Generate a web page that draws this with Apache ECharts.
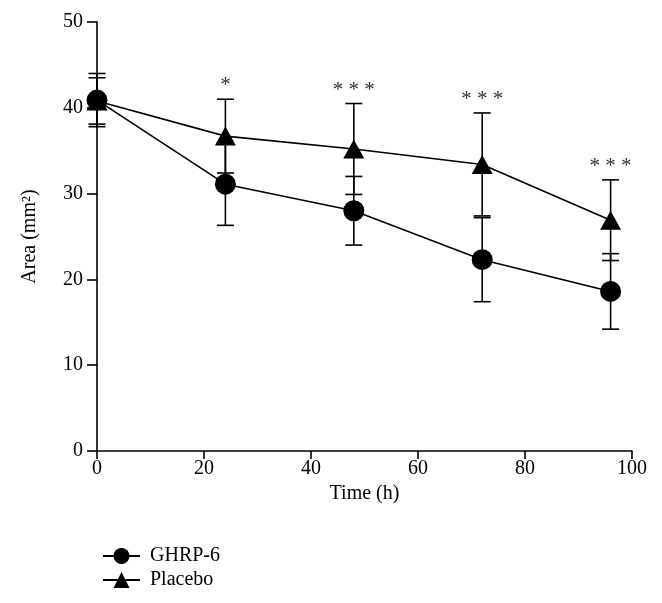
<!DOCTYPE html>
<html>
<head>
<meta charset="utf-8">
<script src="https://cdn.jsdelivr.net/npm/echarts@6/dist/echarts.min.js"></script>
<style>html,body{margin:0;padding:0;background:#fff;}#c{width:662px;height:603px;}</style>
</head>
<body>
<div id="c"></div>
<script>
const time = [0, 24, 48, 72, 96];
const ghrpMean = [40.9, 31.1, 28.0, 22.3, 18.6];
const ghrpErr = [3.1, 4.8, 4.0, 4.9, 4.4];
const placeboMean = [40.8, 36.7, 35.2, 33.4, 26.9];
const placeboErr = [2.7, 4.3, 5.3, 6.0, 4.7];
const sigLabels = ['', '*', '* * *', '* * *', '* * *'];
const xTicks = [0, 20, 40, 60, 80, 100];
const yTicks = [0, 10, 20, 30, 40, 50];

const FONT = '"Liberation Serif", "DejaVu Serif", serif';
const FS = 20;

function errData(mean, err) {
  return time.map((t, i) => [t, mean[i] - err[i], mean[i] + err[i], i]);
}

function errRender(params, api) {
  const x = api.value(0);
  const lo = api.coord([x, api.value(1)]);
  const hi = api.coord([x, api.value(2)]);
  const w = 8.5;
  const st = { stroke: '#000', lineWidth: 1.6 };
  return {
    type: 'group',
    children: [
      { type: 'line', shape: { x1: lo[0], y1: lo[1], x2: hi[0], y2: hi[1] }, style: st },
      { type: 'line', shape: { x1: lo[0] - w, y1: lo[1], x2: lo[0] + w, y2: lo[1] }, style: st },
      { type: 'line', shape: { x1: hi[0] - w, y1: hi[1], x2: hi[0] + w, y2: hi[1] }, style: st }
    ]
  };
}

const sigData = time.map((t, i) => [t, placeboMean[i] + placeboErr[i], i]);

const chart = echarts.init(document.getElementById('c'), null, { renderer: 'canvas' });
chart.setOption({
  animation: false,
  backgroundColor: '#fff',
  textStyle: { fontFamily: FONT },
  grid: { left: 97, right: 30, top: 22, bottom: 152 },
  xAxis: {
    type: 'value', min: xTicks[0], max: xTicks[xTicks.length - 1], interval: 20,
    name: 'Time (h)', nameLocation: 'middle', nameGap: 25,
    nameTextStyle: { fontFamily: FONT, fontSize: FS, color: '#000' },
    axisLine: { show: true, lineStyle: { color: '#000', width: 1.6 } },
    axisTick: { show: true, inside: false, length: 8, lineStyle: { color: '#000', width: 1.6 } },
    axisLabel: { fontFamily: FONT, fontSize: FS, color: '#000', margin: 8 },
    splitLine: { show: false }
  },
  yAxis: {
    type: 'value', min: yTicks[0], max: yTicks[yTicks.length - 1], interval: 10,
    name: 'Area (mm²)', nameLocation: 'middle', nameGap: 57, nameRotate: 90,
    nameTextStyle: { fontFamily: FONT, fontSize: FS, color: '#000' },
    axisLine: { show: true, onZero: false, lineStyle: { color: '#000', width: 1.6 } },
    axisTick: { show: true, length: 10, lineStyle: { color: '#000', width: 1.6 } },
    axisLabel: { fontFamily: FONT, fontSize: FS, color: '#000', margin: 14 },
    splitLine: { show: false }
  },
  legend: {
    orient: 'vertical', left: 97, top: 541, itemGap: 4,
    itemWidth: 37, itemHeight: 20,
    textStyle: { fontFamily: FONT, fontSize: FS, color: '#000', padding: [0, 0, 0, 5] },
    data: ['GHRP-6', 'Placebo']
  },
  series: [
    {
      type: 'custom', name: 'errG', renderItem: errRender, z: 1,
      data: errData(ghrpMean, ghrpErr), encode: { x: 0, y: [1, 2] }, silent: true
    },
    {
      type: 'custom', name: 'errP', renderItem: errRender, z: 1,
      data: errData(placeboMean, placeboErr), encode: { x: 0, y: [1, 2] }, silent: true
    },
    {
      name: 'Placebo', type: 'line', z: 3,
      data: time.map((t, i) => [t, placeboMean[i]]),
      symbol: 'triangle', symbolSize: [21, 19],
      lineStyle: { color: '#000', width: 1.6 },
      itemStyle: { color: '#000' }
    },
    {
      name: 'GHRP-6', type: 'line', z: 4,
      data: time.map((t, i) => [t, ghrpMean[i]]),
      symbol: 'circle', symbolSize: 21,
      lineStyle: { color: '#000', width: 1.6 },
      itemStyle: { color: '#000' }
    },
    {
      type: 'custom', name: 'sig', z: 5, silent: true,
      data: sigData, encode: { x: 0, y: 1 },
      renderItem: function (params, api) {
        const p = api.coord([api.value(0), api.value(1)]);
        return {
          type: 'text',
          style: {
            x: p[0], y: p[1] - 3, text: sigLabels[api.value(2)],
            fill: '#333', font: '21px ' + FONT, textAlign: 'center', textVerticalAlign: 'bottom'
          }
        };
      }
    }
  ]
});
</script>
</body>
</html>
